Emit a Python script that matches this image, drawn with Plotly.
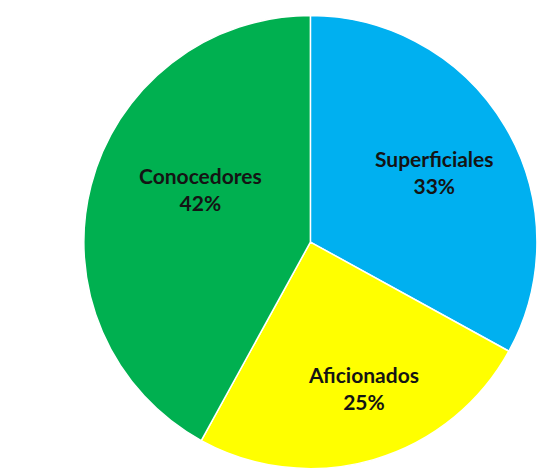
import plotly.graph_objects as go

# Segments of the audience and their shares (%)
categories = ["Superficiales", "Aficionados", "Conocedores"]
shares = [33, 25, 42]
slice_colors = ["#00B0F0", "#FFFF00", "#00B050"]

# Where each segment's label block sits (paper coordinates)
label_x = [0.810, 0.676, 0.373]
label_y = [0.634, 0.176, 0.598]

fig = go.Figure(
    go.Pie(
        labels=categories,
        values=shares,
        sort=False,
        direction="clockwise",
        rotation=0,
        marker=dict(colors=slice_colors, line=dict(color="white", width=1.5)),
        textinfo="none",
        hoverinfo="label+percent",
        showlegend=False,
        domain=dict(x=[0.156, 1.0], y=[0.005, 0.967]),
    )
)

total = sum(shares)
for name, value, x, y in zip(categories, shares, label_x, label_y):
    fig.add_annotation(
        x=x,
        y=y,
        xref="paper",
        yref="paper",
        text=f"<b>{name}<br>{round(100 * value / total)}%</b>",
        showarrow=False,
        xanchor="center",
        yanchor="middle",
        align="center",
        font=dict(family="Lato", size=21, color="#141414"),
    )

fig.update_layout(
    width=537,
    height=471,
    autosize=False,
    margin=dict(l=0, r=0, t=0, b=0),
    paper_bgcolor="white",
    plot_bgcolor="white",
)

fig.write_html("out.html")
